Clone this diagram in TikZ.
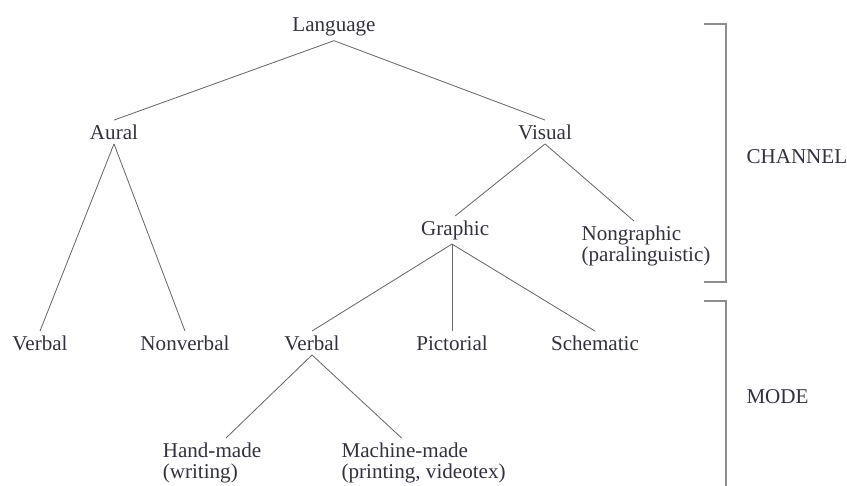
\documentclass[tikz,border=0pt]{standalone}
\usepackage{fontspec}
\setmainfont{Liberation Serif}
\usepackage{tikz}
\usetikzlibrary{positioning}

\definecolor{inkgray}{RGB}{50,50,62}
\definecolor{linegray}{RGB}{105,105,110}
\definecolor{brackgray}{RGB}{140,140,145}

\tikzset{
  term/.style={shape=rectangle, inner sep=3pt, text=inkgray, align=left,
    font=\fontsize{15}{15.5}\selectfont},
  branch/.style={draw=linegray, line width=0.6pt},
  brack/.style={draw=brackgray, line width=0.8pt}
}

\begin{document}
\begin{tikzpicture}
\useasboundingbox (0,0) rectangle (21.175,12.15);

% Top row
\node [term] at (8.35,11.475) (lang) {Language};

% Second row
\node [term] at (2.85,8.85)   (aural)  {Aural};
\node [term] at (13.625,8.85) (visual) {Visual};

% Third row
\node [term] at (11.38,6.4) (graphic)    {Graphic};
\node [term] at (16.15,6.0)  (nongraphic) {Nongraphic\\(paralinguistic)};

% Fourth row
\node [term] at (1.0,3.575)    (verbal_a)  {Verbal};
\node [term] at (4.625,3.575)  (nonverbal) {Nonverbal};
\node [term] at (7.8,3.575)    (verbal_g)  {Verbal};
\node [term] at (11.3,3.575)   (pict)      {Pictorial};
\node [term] at (14.875,3.575) (schem)     {Schematic};

% Bottom row
\node [term] at (5.3,0.575)  (hand)    {Hand-made\\(writing)};
\node [term] at (10.59,0.575) (machine) {Machine-made\\(printing, videotex)};

% Side labels
\node [term, anchor=west] at (18.55,8.225) (channel) {CHANNEL};
\node [term, anchor=west] at (18.55,2.225) (mode)    {MODE};

% Tree lines
\draw [branch] (lang.south) -- (aural.north);
\draw [branch] (lang.south) -- (visual.north);
\draw [branch] (aural.south) -- (verbal_a.north);
\draw [branch] (aural.south) -- (nonverbal.north);
\draw [branch] (visual.south) -- (graphic.north);
\draw [branch] (visual.south) -- ([xshift=-0.3cm]nongraphic.north);
\draw [branch] ([xshift=-0.08cm]graphic.south) -- ([xshift=-0.08cm]graphic.south |- pict.north);
\draw [branch] ([xshift=-0.08cm]graphic.south) -- (verbal_g.north);
\draw [branch] ([xshift=-0.08cm]graphic.south) -- (schem.north);
\draw [branch] (verbal_g.south) -- ([xshift=0.35cm]hand.north);
\draw [branch] (verbal_g.south) -- ([xshift=-0.55cm]machine.north);

% Brackets
\draw [brack] (17.6,11.55) -- (18.15,11.55) -- (18.15,5.1) -- (17.6,5.1);
\draw [brack] (17.6,4.625) -- (18.15,4.625) -- (18.15,0);

\end{tikzpicture}
\end{document}
